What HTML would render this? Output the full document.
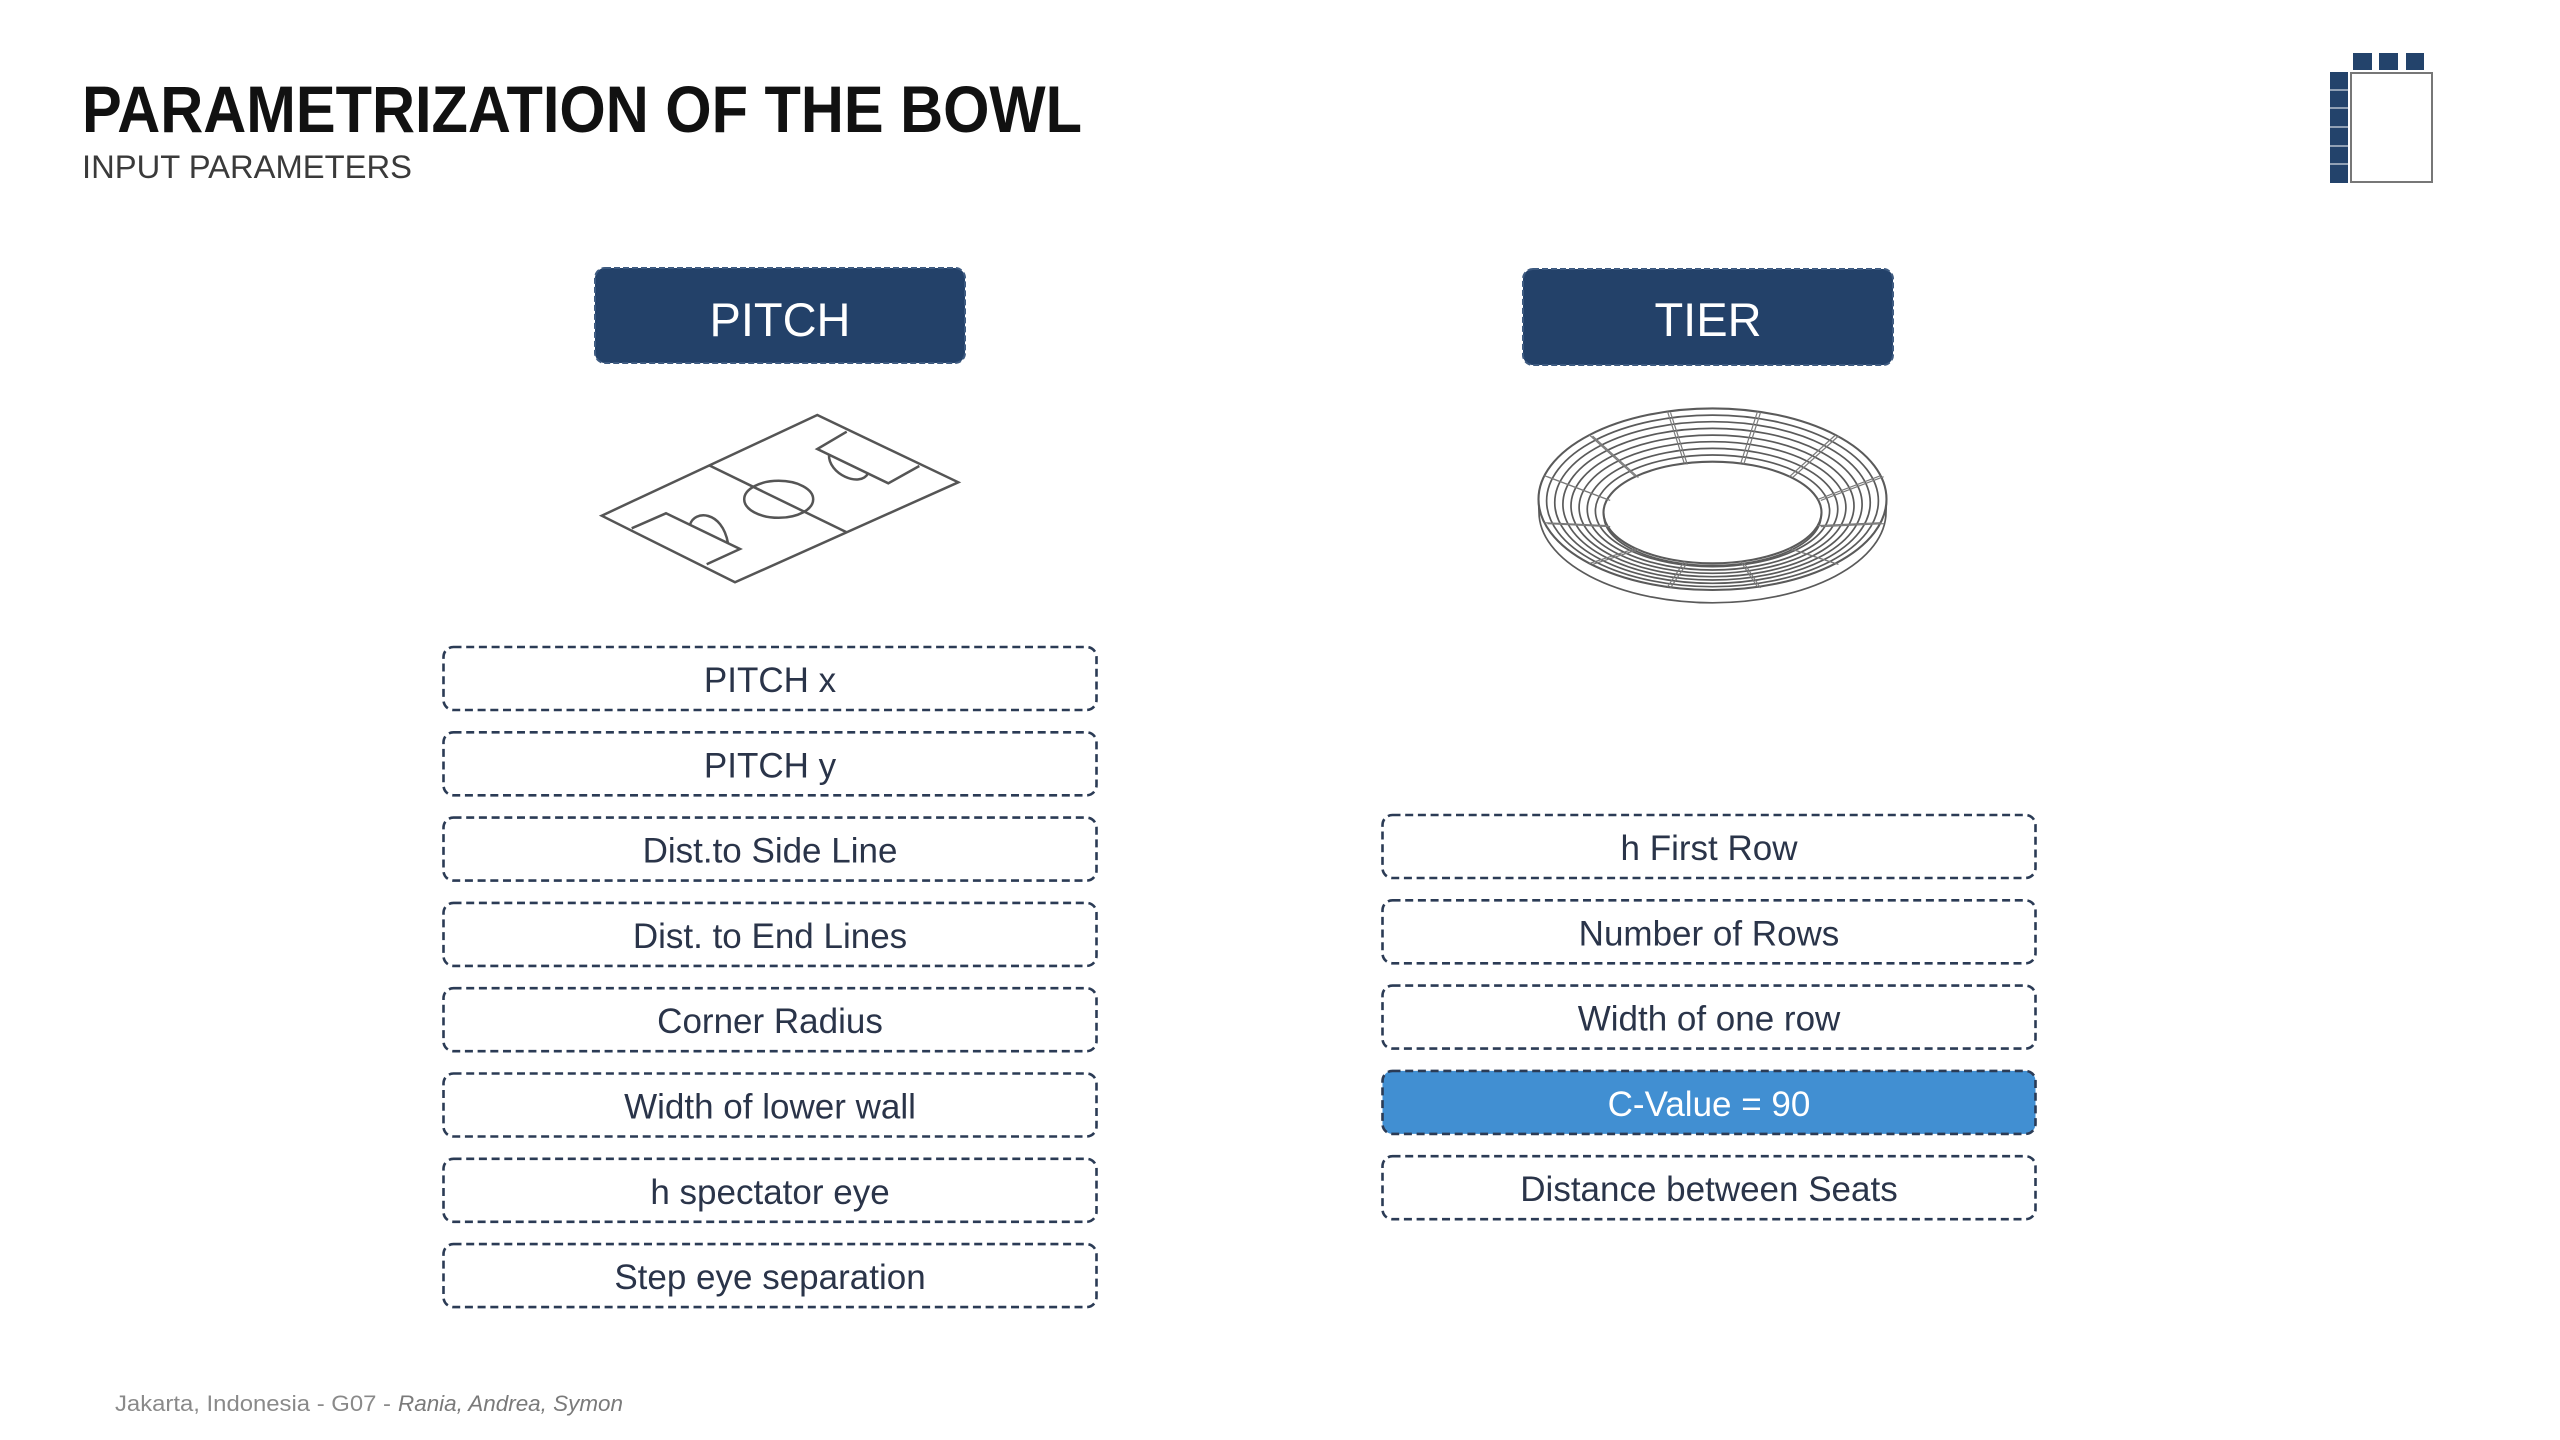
<!DOCTYPE html>
<html>
<head>
<meta charset="utf-8">
<style>
  html, body { margin: 0; padding: 0; background: #ffffff; }
  body { width: 2560px; height: 1440px; overflow: hidden; }
  svg { display: block; }
  text { font-family: "Liberation Sans", Arial, sans-serif; }
</style>
</head>
<body>
<svg width="2560" height="1440" viewBox="0 0 2560 1440" xmlns="http://www.w3.org/2000/svg">
  <rect x="0" y="0" width="2560" height="1440" fill="#ffffff"/>

  <!-- Title -->
  <text x="82" y="132" font-size="66" font-weight="bold" fill="#111111" textLength="1000" lengthAdjust="spacingAndGlyphs">PARAMETRIZATION OF THE BOWL</text>
  <text x="82" y="178" font-size="32" fill="#3a3a3a" textLength="330" lengthAdjust="spacingAndGlyphs">INPUT PARAMETERS</text>

  <!-- Logo -->
  <g fill="#23436b">
    <rect x="2353" y="53" width="19" height="17"/>
    <rect x="2379" y="53" width="19" height="17"/>
    <rect x="2406" y="53" width="18" height="17"/>
    <rect x="2330" y="72" width="18" height="111"/>
  </g>
  <g stroke="#ffffff" stroke-width="1">
    <line x1="2330" y1="90" x2="2348" y2="90"/>
    <line x1="2330" y1="108" x2="2348" y2="108"/>
    <line x1="2330" y1="127" x2="2348" y2="127"/>
    <line x1="2330" y1="146" x2="2348" y2="146"/>
    <line x1="2330" y1="164" x2="2348" y2="164"/>
  </g>
  <rect x="2351" y="73" width="81" height="109" fill="#ffffff" stroke="#777777" stroke-width="2"/>

  <!-- Header boxes -->
  <rect x="595" y="268" width="370" height="95" rx="10" fill="#234169" stroke="#3d5a80" stroke-width="2" stroke-dasharray="6 3"/>
  <text x="780" y="336" font-size="47" fill="#ffffff" text-anchor="middle">PITCH</text>
  <rect x="1523" y="269" width="370" height="96" rx="10" fill="#234169" stroke="#3d5a80" stroke-width="2" stroke-dasharray="6 3"/>
  <text x="1708" y="336" font-size="47" fill="#ffffff" text-anchor="middle">TIER</text>

  <!-- Pitch drawing -->
  <g fill="none" stroke="#555555" stroke-width="2.5" stroke-linejoin="miter">
    <polygon points="601.7,515.7 817.3,415 958.3,482.3 735,582.3"/>
    <line x1="709.5" y1="465.5" x2="846.6" y2="532.3"/>
    <ellipse cx="778.7" cy="499.3" rx="34.5" ry="18.5"/>
    <polyline points="631.7,528.3 666,513.3 740,549 706.7,564.3"/>
    <path d="M690,524.8 C694,510 722,510 728,543.2"/>
    <polyline points="846.7,431.7 817.3,449 888.3,483.3 919.3,466"/>
    <path d="M829,454.6 C828,474 860,488 868,473.5"/>
  </g>

  <!-- Bowl drawing -->
  <g fill="none" stroke="#5a5a5a" stroke-width="1.7">
    <!-- drum -->
    <path d="M1539,512 A173.5,90.8 0 0 0 1886,512"/>
    <line x1="1538.5" y1="499.2" x2="1539" y2="512"/>
    <line x1="1886.5" y1="499.2" x2="1886" y2="512"/>
    <!-- rings -->
    <ellipse cx="1712.5" cy="499.2" rx="174" ry="90.8" stroke-width="2.1"/>
    <ellipse cx="1712.5" cy="500.9" rx="165.9" ry="85.8"/>
    <ellipse cx="1712.5" cy="502.5" rx="157.75" ry="80.8"/>
    <ellipse cx="1712.5" cy="504.2" rx="149.6" ry="75.8"/>
    <ellipse cx="1712.5" cy="505.9" rx="141.5" ry="70.8"/>
    <ellipse cx="1712.5" cy="507.5" rx="133.4" ry="65.8"/>
    <ellipse cx="1712.5" cy="509.2" rx="125.25" ry="60.8"/>
    <ellipse cx="1712.5" cy="510.8" rx="117.1" ry="55.8"/>
    <ellipse cx="1712.5" cy="512.5" rx="109" ry="50.8" stroke-width="2.1"/>
    <path d="M1604,516 A108.5,49.5 0 0 0 1821,516"/>
  </g>
  <g fill="none" stroke="#7a7a7a" stroke-width="1.2">
    <g>
      <line x1="1817.8" y1="525.6" x2="1880.6" y2="522.7"/>
      <line x1="1789.6" y1="548.4" x2="1835.5" y2="563.4"/>
      <line x1="1740.7" y1="561.6" x2="1757.5" y2="586.9"/>
      <line x1="1684.3" y1="561.6" x2="1667.5" y2="586.9"/>
      <line x1="1635.4" y1="548.4" x2="1589.5" y2="563.4"/>
      <line x1="1607.2" y1="525.6" x2="1544.4" y2="522.7"/>
      <line x1="1607.2" y1="499.4" x2="1544.4" y2="475.7"/>
      <line x1="1635.4" y1="476.6" x2="1589.5" y2="435.0"/>
      <line x1="1684.3" y1="463.4" x2="1667.5" y2="411.5"/>
      <line x1="1740.7" y1="463.4" x2="1757.5" y2="411.5"/>
      <line x1="1789.6" y1="476.6" x2="1835.5" y2="435.0"/>
      <line x1="1817.8" y1="499.4" x2="1880.6" y2="475.7"/>
    </g>
    <g transform="translate(3,1)">
      <line x1="1817.8" y1="525.6" x2="1880.6" y2="522.7"/>
      <line x1="1789.6" y1="548.4" x2="1835.5" y2="563.4"/>
      <line x1="1740.7" y1="561.6" x2="1757.5" y2="586.9"/>
      <line x1="1684.3" y1="561.6" x2="1667.5" y2="586.9"/>
      <line x1="1635.4" y1="548.4" x2="1589.5" y2="563.4"/>
      <line x1="1607.2" y1="525.6" x2="1544.4" y2="522.7"/>
      <line x1="1607.2" y1="499.4" x2="1544.4" y2="475.7"/>
      <line x1="1635.4" y1="476.6" x2="1589.5" y2="435.0"/>
      <line x1="1684.3" y1="463.4" x2="1667.5" y2="411.5"/>
      <line x1="1740.7" y1="463.4" x2="1757.5" y2="411.5"/>
      <line x1="1789.6" y1="476.6" x2="1835.5" y2="435.0"/>
      <line x1="1817.8" y1="499.4" x2="1880.6" y2="475.7"/>
    </g>
  </g>

  <!-- Left parameter boxes -->
  <g fill="none" stroke="#2b3b55" stroke-width="2.6" stroke-dasharray="8 4.7">
    <rect x="443.5" y="647" width="653" height="63" rx="10"/>
    <rect x="443.5" y="732.3" width="653" height="63" rx="10"/>
    <rect x="443.5" y="817.6" width="653" height="63" rx="10"/>
    <rect x="443.5" y="902.9" width="653" height="63" rx="10"/>
    <rect x="443.5" y="988.2" width="653" height="63" rx="10"/>
    <rect x="443.5" y="1073.5" width="653" height="63" rx="10"/>
    <rect x="443.5" y="1158.8" width="653" height="63" rx="10"/>
    <rect x="443.5" y="1244.1" width="653" height="63" rx="10"/>
  </g>
  <g font-size="35" fill="#2a3449" text-anchor="middle">
    <text x="770" y="692">PITCH x</text>
    <text x="770" y="777.3">PITCH y</text>
    <text x="770" y="862.6">Dist.to Side Line</text>
    <text x="770" y="947.9">Dist. to End Lines</text>
    <text x="770" y="1033.2">Corner Radius</text>
    <text x="770" y="1118.5">Width of lower wall</text>
    <text x="770" y="1203.8">h spectator eye</text>
    <text x="770" y="1289.1">Step eye separation</text>
  </g>

  <!-- Right parameter boxes -->
  <rect x="1382.5" y="1070.9" width="653" height="63" rx="10" fill="#418fd2"/>
  <g fill="none" stroke="#2b3b55" stroke-width="2.6" stroke-dasharray="8 4.7">
    <rect x="1382.5" y="815" width="653" height="63" rx="10"/>
    <rect x="1382.5" y="900.3" width="653" height="63" rx="10"/>
    <rect x="1382.5" y="985.6" width="653" height="63" rx="10"/>
    <rect x="1382.5" y="1070.9" width="653" height="63" rx="10"/>
    <rect x="1382.5" y="1156.2" width="653" height="63" rx="10"/>
  </g>
  <g font-size="35" fill="#2a3449" text-anchor="middle">
    <text x="1709" y="860">h First Row</text>
    <text x="1709" y="945.3">Number of Rows</text>
    <text x="1709" y="1030.6">Width of one row</text>
    <text x="1709" y="1115.9" fill="#ffffff">C-Value = 90</text>
    <text x="1709" y="1201.2">Distance between Seats</text>
  </g>

  <!-- Footer -->
  <text x="115" y="1411" font-size="22" fill="#8a8a8a" textLength="276" lengthAdjust="spacingAndGlyphs">Jakarta, Indonesia - G07 -</text>
  <text x="398" y="1411" font-size="22" font-style="italic" fill="#7a7a7a" textLength="225" lengthAdjust="spacingAndGlyphs">Rania, Andrea, Symon</text>
</svg>
</body>
</html>
